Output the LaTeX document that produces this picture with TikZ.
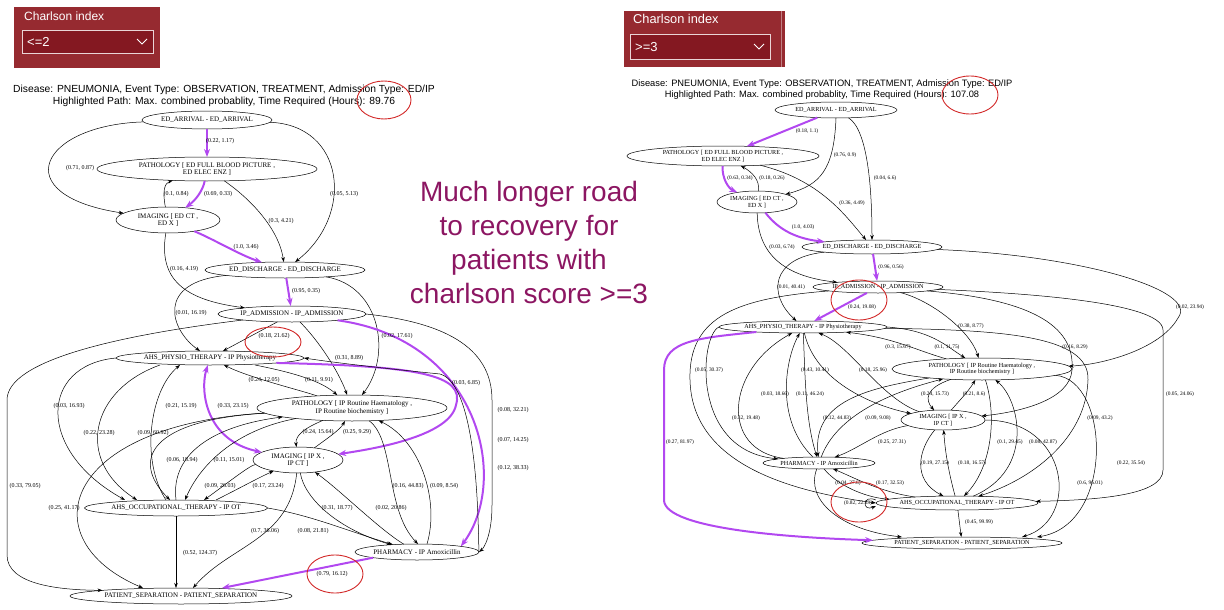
\documentclass[tikz,border=0pt]{standalone}
\usepackage{fontspec}
\setmainfont{Liberation Serif}
\newfontfamily\hdrfont{Liberation Sans}
\usetikzlibrary{arrows.meta,shapes.geometric}

\definecolor{hilite}{RGB}{178,72,240}
\definecolor{ringred}{RGB}{210,40,40}
\definecolor{boxred}{RGB}{150,42,48}
\definecolor{selred}{RGB}{132,24,33}
\definecolor{msgpurple}{RGB}{140,22,98}

\tikzset{
  lnode/.style={ellipse, draw, line width=0.5pt, inner sep=0pt, outer sep=0pt, align=center, font=\fontsize{7}{7.6}\selectfont},
  rnode/.style={lnode, font=\fontsize{6.2}{6.8}\selectfont},
  llbl/.style={inner sep=0pt, font=\fontsize{6}{6}\selectfont},
  rlbl/.style={inner sep=0pt, font=\fontsize{5.4}{5.4}\selectfont},
  conn/.style={draw=black, line width=0.5pt, -{Stealth[length=5pt,width=3.5pt]}},
  hot/.style={draw=hilite, line width=2pt, -{Stealth[length=8pt,width=6pt]}},
  hotboth/.style={hot, {Stealth[length=8pt,width=6pt]}-{Stealth[length=8pt,width=6pt]}},
  ring/.style={draw=ringred, line width=0.9pt},
  hdr/.style={align=center, inner sep=0pt},
  boxtxt/.style={text=white, inner sep=0pt, anchor=west, font=\hdrfont\fontsize{12}{14}\selectfont}
}

\begin{document}
\begin{tikzpicture}[x=1pt,y=-1pt]
\useasboundingbox (0,0) rectangle (1224,610);

% Selector boxes
\fill[boxred] (14,7) rectangle (160,68);
\filldraw[fill=selred, draw=white!80!boxred, line width=0.8pt] (22,30) rectangle (153,53);
\node[boxtxt] (lBoxTitle) at (24,16) {Charlson index};
\node[boxtxt, font=\hdrfont\fontsize{13}{15}\selectfont] (lBoxSel) at (27,42) {<=2};
\draw[white, line width=0.8pt] (137,39) -- (142,44) -- (147,39);

\fill[boxred] (624,11) rectangle (785,67);
\draw[white!40!boxred, line width=1pt] (781,11) -- (781,67);
\filldraw[fill=selred, draw=white!80!boxred, line width=0.8pt] (630,34) rectangle (770,59);
\node[boxtxt, font=\hdrfont\fontsize{12.8}{15}\selectfont] (rBoxTitle) at (633,19) {Charlson index};
\node[boxtxt, font=\hdrfont\fontsize{13}{15}\selectfont] (rBoxSel) at (635,47) {>=3};
\draw[white, line width=0.8pt] (754,44) -- (759,49) -- (764,44);

% Headers
\node[hdr, font=\hdrfont\fontsize{10.3}{12}\selectfont] (lHead) at (224,96)
  {Disease: PNEUMONIA, Event Type: OBSERVATION, TREATMENT, Admission Type: ED/IP\\Highlighted Path: Max. combined probablity, Time Required (Hours): 89.76};
\node[hdr, font=\hdrfont\fontsize{9.3}{11}\selectfont] (rHead) at (822,90)
  {Disease: PNEUMONIA, Event Type: OBSERVATION, TREATMENT, Admission Type: ED/IP\\Highlighted Path: Max. combined probablity, Time Required (Hours): 107.08};

% Message
\node[hdr, text=msgpurple, font=\hdrfont\fontsize{28}{34}\selectfont] (msg) at (529,242)
  {Much longer road\\to recovery for\\patients with\\charlson score >=3};

% Left graph: nodes
\node[lnode, minimum width=130, minimum height=18] (lArr) at (207,120) {ED\_ARRIVAL - ED\_ARRIVAL};
\node[lnode, minimum width=220, minimum height=24] (lPathED) at (207,169) {PATHOLOGY [ ED FULL BLOOD PICTURE ,\\ ED ELEC ENZ ]};
\node[lnode, minimum width=104, minimum height=26] (lImgED) at (168,220) {IMAGING [ ED CT ,\\ ED X ]};
\node[lnode, minimum width=160, minimum height=16] (lDis) at (285,270) {ED\_DISCHARGE - ED\_DISCHARGE};
\node[lnode, minimum width=148, minimum height=16] (lAdm) at (292,314) {IP\_ADMISSION - IP\_ADMISSION};
\node[lnode, minimum width=188, minimum height=14] (lPhys) at (210,358) {AHS\_PHYSIO\_THERAPY - IP Physiotherapy};
\node[lnode, minimum width=190, minimum height=26] (lPathIP) at (352,408) {PATHOLOGY [ IP Routine Haematology ,\\ IP Routine biochemistry ]};
\node[lnode, minimum width=90, minimum height=26] (lImgIP) at (298,460) {IMAGING [ IP X ,\\ IP CT ]};
\node[lnode, minimum width=178, minimum height=16] (lOT) at (176,508) {AHS\_OCCUPATIONAL\_THERAPY - IP OT};
\node[lnode, minimum width=124, minimum height=16] (lPharm) at (417,552) {PHARMACY - IP Amoxicillin};
\node[lnode, minimum width=222, minimum height=16] (lSep) at (181,596) {PATIENT\_SEPARATION - PATIENT\_SEPARATION};

% Left graph: connectors
\draw[hot] (lArr) -- (lPathED);
\draw[conn] (lArr) .. controls (40,125) and (5,195) .. (lImgED);
\draw[conn] (lArr) .. controls (345,125) and (355,215) .. (lDis);
\draw[hot] (lPathED) .. controls (203,190) and (196,200) .. (lImgED);
\draw[conn] (lImgED) .. controls (162,190) and (165,183) .. (lPathED);
\draw[conn] (lPathED) .. controls (245,195) and (278,225) .. (lDis);
\draw[hot] (lImgED) .. controls (215,240) and (240,255) .. (lDis);
\draw[conn] (lImgED) .. controls (158,280) and (185,300) .. (lAdm);
\draw[hot] (lDis) -- (lAdm);
\draw[conn] (lDis) .. controls (155,282) and (170,330) .. (lPhys);
\draw[conn] (lDis) .. controls (381,286) and (392,356) .. (lPathIP);
\draw[conn] (lAdm) -- (lPhys);
\draw[conn] (lAdm) .. controls (318,340) and (338,370) .. (lPathIP);
\draw[hot] (lAdm) .. controls (480,340) and (510,480) .. (lPharm.north east);
\draw[hot] (lPhys.south east) .. controls (420,366) and (465,375) .. (456,405) .. controls (450,435) and (380,448) .. (lImgIP);
\draw[hotboth] (lImgIP) .. controls (205,440) and (200,390) .. (lPhys);
\draw[hot] (lPharm.south west) -- ([xshift=41pt]lSep.north);
\draw[conn] (lPharm.east) .. controls (478,540) and (480,385) .. (440,374) .. controls (380,368) and (330,362) .. (lPhys.east);
\draw[conn] (lAdm.east) .. controls (440,322) and (492,345) .. (492,400) -- (492,505) .. controls (492,535) and (484,548) .. (lPharm.east);
\draw[conn] (lAdm) .. controls (120,335) and (7,360) .. (7,400) -- (7,555) .. controls (7,585) and (60,590) .. (lSep.north west);
\draw[conn] (lPhys.west) .. controls (40,365) and (35,450) .. ([xshift=-51pt]lOT.north);
\draw[conn] ([xshift=-50pt]lPhys.south) .. controls (90,390) and (75,460) .. ([xshift=-39pt]lOT.north);
\draw[conn] (lPathIP) .. controls (150,420) and (130,460) .. ([xshift=-6pt]lOT.north);
\draw[conn] ([xshift=-10pt]lOT.north) .. controls (140,460) and (150,390) .. ([xshift=-30pt]lPhys.south);
\draw[conn] (lPathIP) .. controls (60,425) and (30,540) .. ([xshift=-38pt]lSep.north);
\draw[conn] (lOT.north) .. controls (170,450) and (220,425) .. (lPathIP);
\draw[conn] (lPathIP) .. controls (235,430) and (200,465) .. ([xshift=9pt]lOT.north);
\draw[conn] ([xshift=40pt]lOT.north) .. controls (240,488) and (258,478) .. (lImgIP);
\draw[conn] (lImgIP) .. controls (250,465) and (225,485) .. ([xshift=28pt]lOT.north);
\draw[conn] (lPathIP) .. controls (300,390) and (250,378) .. (lPhys);
\draw[conn] ([xshift=45pt]lPhys.south) .. controls (290,372) and (320,380) .. (lPathIP);
\draw[conn] (lPathIP) .. controls (305,428) and (295,435) .. (lImgIP);
\draw[conn] (lImgIP) .. controls (325,440) and (340,430) .. (lPathIP);
\draw[conn] (lPathIP) .. controls (395,440) and (385,510) .. ([xshift=1pt]lPharm.north);
\draw[conn] ([xshift=10pt]lPharm.north) .. controls (440,500) and (420,440) .. (lPathIP);
\draw[conn] (lImgIP) .. controls (305,500) and (340,530) .. (lPharm);
\draw[conn] (lPharm) .. controls (380,530) and (340,490) .. (lImgIP);
\draw[conn] (lImgIP) .. controls (290,540) and (230,545) .. ([xshift=12pt]lSep.north);
\draw[conn] (lOT.east) .. controls (310,515) and (345,530) .. (lPharm);
\draw[conn] (lOT) -- (lOT.south |- lSep.north);

% Left graph: edge labels
\foreach \p/\h/\x/\y [count=\i] in {0.22/1.17/220/141, 0.71/0.87/80/168, 0.1/0.84/176/194, 0.69/0.33/218/194,
  0.05/5.13/344/194, 0.3/4.21/281/221, 1.0/3.46/246/247, 0.16/4.19/184/269, 0.95/0.35/306/291,
  0.01/16.19/191/313, 0.18/21.62/274/336, 0.02/17.61/397/336, 0.31/8.89/349/358, 0.24/12.05/264/380,
  0.11/9.91/319/380, 0.03/6.85/466/383, 0.07/14.25/513/440, 0.12/38.33/513/468, 0.08/32.21/513/410,
  0.03/16.93/69/406, 0.21/15.19/181/406, 0.33/23.15/233/406, 0.22/23.28/99/433, 0.09/60.92/153/433,
  0.24/15.64/318/432, 0.25/9.29/357/432, 0.06/18.94/182/460, 0.11/15.01/229/460, 0.33/79.05/25/486,
  0.09/26.03/220/486, 0.17/23.24/268/486, 0.16/44.83/408/486, 0.09/8.54/444/486, 0.25/41.17/64/508,
  0.31/18.77/337/508, 0.02/20.86/391/508, 0.7/36.06/265/531, 0.08/21.81/313/531, 0.52/124.37/200/553,
  0.79/16.12/332/574}
  \node[llbl] (lLab\i) at (\x,\y) {(\p, \h)};

% Right graph: nodes
\node[rnode, minimum width=122, minimum height=16] (rArr) at (836,110) {ED\_ARRIVAL - ED\_ARRIVAL};
\node[rnode, minimum width=192, minimum height=20] (rPathED) at (723,156) {PATHOLOGY [ ED FULL BLOOD PICTURE ,\\ ED ELEC ENZ ]};
\node[rnode, minimum width=80, minimum height=22] (rImgED) at (757,202) {IMAGING [ ED CT ,\\ ED X ]};
\node[rnode, minimum width=140, minimum height=14] (rDis) at (872,247) {ED\_DISCHARGE - ED\_DISCHARGE};
\node[rnode, minimum width=130, minimum height=12] (rAdm) at (878,287) {IP\_ADMISSION - IP\_ADMISSION};
\node[rnode, minimum width=168, minimum height=12] (rPhys) at (803,327) {AHS\_PHYSIO\_THERAPY - IP Physiotherapy};
\node[rnode, minimum width=180, minimum height=22] (rPathIP) at (982,369) {PATHOLOGY [ IP Routine Haematology ,\\ IP Routine biochemistry ]};
\node[rnode, minimum width=84, minimum height=20] (rImgIP) at (943,420) {IMAGING [ IP X ,\\ IP CT ]};
\node[rnode, minimum width=112, minimum height=12] (rPharm) at (819,463) {PHARMACY - IP Amoxicillin};
\node[rnode, minimum width=154, minimum height=14] (rOT) at (957,503) {AHS\_OCCUPATIONAL\_THERAPY - IP OT};
\node[rnode, minimum width=200, minimum height=12] (rSep) at (962,543) {PATIENT\_SEPARATION - PATIENT\_SEPARATION};

% Right graph: connectors
\draw[hot] (rArr) -- (rPathED);
\draw[conn] (rArr.south) .. controls (834,170) and (820,185) .. (rImgED);
\draw[conn] (rArr) .. controls (868,130) and (872,190) .. (rDis);
\draw[hot] (rPathED) .. controls (722,178) and (728,188) .. (rImgED);
\draw[conn] (rImgED) .. controls (760,180) and (752,172) .. (rPathED);
\draw[conn] (rPathED) .. controls (820,180) and (845,215) .. (rDis);
\draw[hot] (rImgED) .. controls (775,225) and (790,238) .. (rDis);
\draw[conn] (rImgED) .. controls (758,265) and (800,278) .. (rAdm);
\draw[hot] (rDis) -- (rAdm);
\draw[conn] (rDis) .. controls (770,258) and (768,295) .. (rPhys);
\draw[conn] (rDis) .. controls (1080,255) and (1200,290) .. (1178,318) .. controls (1160,350) and (1100,365) .. (rPathIP);
\draw[hot] (rAdm) -- (rPhys);
\draw[conn] (rAdm) .. controls (930,300) and (970,330) .. (rPathIP);
\draw[conn] (rAdm) .. controls (1040,300) and (1075,330) .. (1072,370) .. controls (1070,400) and (1020,412) .. (rImgIP);
\draw[conn] (rAdm) .. controls (1000,292) and (1163,300) .. (1163,330) -- (1163,470) .. controls (1163,495) and (1100,500) .. (rOT);
\draw[conn] (rAdm) .. controls (740,298) and (688,315) .. (690,380) .. controls (692,460) and (780,490) .. (rOT.west);
\draw[hot] (rPhys) .. controls (700,338) and (664,340) .. (664,370) -- (664,500) .. controls (664,530) and (800,538) .. (rSep);
\draw[conn] (rPathIP) .. controls (915,350) and (895,338) .. (rPhys);
\draw[conn] (rPhys.east) .. controls (930,330) and (945,345) .. (rPathIP);
\draw[conn] (rPhys) .. controls (1000,330) and (1090,335) .. (1088,380) .. controls (1086,440) and (1030,480) .. (rOT);
\draw[conn] (rPhys.west) .. controls (700,335) and (690,450) .. (rPharm);
\draw[conn] (rPharm) .. controls (720,450) and (725,370) .. (rPhys);
\draw[conn] (rPharm) .. controls (775,420) and (785,360) .. (rPhys);
\draw[conn] (rPhys) .. controls (805,370) and (805,420) .. (rPharm);
\draw[conn] (rPhys) .. controls (815,380) and (870,405) .. (rImgIP);
\draw[conn] (rImgIP) .. controls (880,398) and (850,345) .. (rPhys);
\draw[conn] (rPathIP) .. controls (870,388) and (812,400) .. (rPharm);
\draw[conn] (rPharm) .. controls (835,420) and (880,395) .. (rPathIP);
\draw[conn] (rPathIP) .. controls (925,388) and (925,400) .. (rImgIP);
\draw[conn] (rImgIP) .. controls (958,402) and (968,392) .. (rPathIP);
\draw[conn] (rImgIP) .. controls (880,430) and (860,448) .. (rPharm);
\draw[conn] (rPathIP) .. controls (998,420) and (990,470) .. (rOT);
\draw[conn] (rOT) .. controls (1035,470) and (1020,400) .. (rPathIP);
\draw[conn] (rImgIP) .. controls (918,450) and (912,480) .. (rOT);
\draw[conn] (rOT) .. controls (948,470) and (945,450) .. (rImgIP);
\draw[conn] (rPharm) .. controls (840,488) and (870,498) .. (rOT);
\draw[conn] (rOT) .. controls (880,492) and (855,478) .. (rPharm);
\draw[conn] ([yshift=3pt]rOT.west) .. controls +(-14,-6) and +(-14,6) .. ([yshift=-3pt]rOT.west);
\draw[conn] (rOT) -- (rSep);
\draw[conn] (rImgIP) .. controls (1070,420) and (1080,520) .. ([xshift=60pt]rSep.north);
\draw[conn] (rPathIP) .. controls (1110,380) and (1115,525) .. ([xshift=75pt]rSep.north);
\draw[conn] (rPharm) .. controls (805,500) and (840,530) .. ([xshift=-60pt]rSep.north);

% Right graph: edge labels
\foreach \p/\h/\x/\y [count=\i] in {0.18/1.1/807/131, 0.76/0.9/845/155, 0.63/0.34/740/178, 0.18/0.26/772/178,
  0.04/6.6/885/178, 0.36/4.49/852/203, 1.0/4.03/803/227, 0.03/6.74/782/247, 0.96/0.56/891/267,
  0.01/40.41/791/287, 0.24/19.08/862/307, 0.02/23.94/1190/307, 0.38/8.77/971/326, 0.3/15.67/898/347,
  0.1/11.75/947/347, 0.16/8.29/1075/347, 0.05/30.37/709/370, 0.43/10.41/815/370, 0.18/25.96/873/370,
  0.03/18.66/775/394, 0.11/46.24/810/394, 0.24/15.73/935/394, 0.21/8.6/974/394, 0.05/24.06/1180/394,
  0.32/19.48/746/418, 0.12/44.83/837/418, 0.09/9.08/878/418, 0.09/43.2/1100/418, 0.27/81.97/680/442,
  0.25/27.31/892/442, 0.1/29.45/1010/442, 0.08/42.87/1043/442, 0.19/27.15/935/463, 0.18/16.57/972/463,
  0.22/35.54/1131/463, 0.04/27.6/848/483, 0.17/32.53/890/483, 0.6/96.01/1090/483, 0.82/22.23/858/503,
  0.45/99.99/979/522}
  \node[rlbl] (rLab\i) at (\x,\y) {(\p, \h)};

% Red rings
\draw[ring] (384,100) ellipse [x radius=27, y radius=19];
\draw[ring] (273,342) ellipse [x radius=28, y radius=15];
\draw[ring] (335,574) ellipse [x radius=28, y radius=19];
\draw[ring] (970,95) ellipse [x radius=28, y radius=19];
\draw[ring] (859,300) ellipse [x radius=28, y radius=20];
\draw[ring] (859,502) ellipse [x radius=28, y radius=20];
\end{tikzpicture}
\end{document}
